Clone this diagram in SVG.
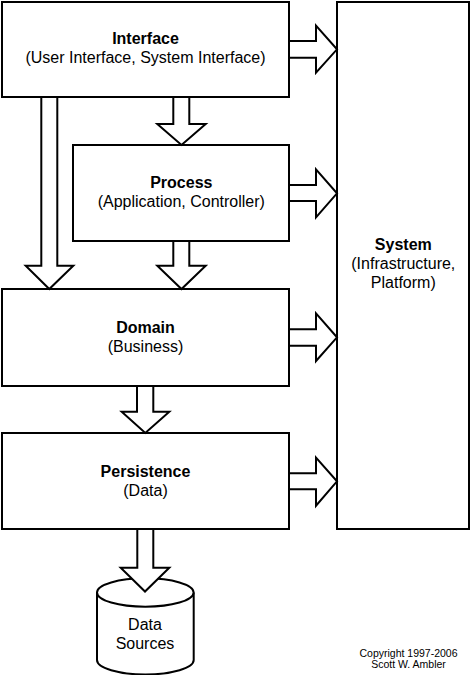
<svg xmlns="http://www.w3.org/2000/svg" width="471" height="675" viewBox="0 0 471 675">
<style>
.box{fill:#fff;stroke:#000;stroke-width:2}
.arr{fill:#fff;stroke:#000;stroke-width:2;stroke-linejoin:miter}
text{font-family:"Liberation Sans",Arial,sans-serif;font-size:16px;fill:#000;text-anchor:middle}
.t{font-weight:bold}
.c{font-size:10.5px}
</style>
<rect width="471" height="675" fill="#fff"/>
<g id="system">
<rect class="box" x="337" y="2" width="132" height="527"/>
<text class="t" x="403.3" y="250">System</text>
<text x="403.3" y="269.3">(Infrastructure,</text>
<text x="403.3" y="288.3">Platform)</text>
</g>
<g id="interface">
<rect class="box" x="2" y="2" width="287" height="95"/>
<text class="t" x="145.5" y="44.3">Interface</text>
<text x="145.5" y="63">(User Interface, System Interface)</text>
</g>
<g id="process">
<rect class="box" x="73" y="145" width="216" height="96"/>
<text class="t" x="181.3" y="188.3">Process</text>
<text x="181.3" y="207.3">(Application, Controller)</text>
</g>
<g id="domain">
<rect class="box" x="2" y="289" width="287" height="97"/>
<text class="t" x="145.5" y="332.7">Domain</text>
<text x="145.5" y="351.7">(Business)</text>
</g>
<g id="persistence">
<rect class="box" x="2" y="433" width="287" height="96"/>
<text class="t" x="145.5" y="476.7">Persistence</text>
<text x="145.5" y="496">(Data)</text>
</g>
<g id="datasources">
<path class="box" d="M97,592.5 L97,660 A48.3,14.5 0 0 0 193.7,660 L193.7,592.5"/>
<ellipse class="box" cx="145.3" cy="592.5" rx="48.3" ry="14.2"/>
<text x="145" y="630">Data</text>
<text x="145" y="649.3">Sources</text>
</g>
<g id="copyright">
<text class="c" x="408.5" y="656.7">Copyright 1997-2006</text>
<text class="c" x="408.5" y="667.5">Scott W. Ambler</text>
</g>
<g id="connectors">
<polygon class="arr" points="289,41 316,41 316,25.7 337,49.3 316,72.7 316,57.7 289,57.7"/>
<polygon class="arr" points="289,185 316,185 316,169.3 337,193.3 316,217.3 316,201 289,201"/>
<polygon class="arr" points="289,329.3 316,329.3 316,313.3 337,337.3 316,361 316,345.7 289,345.7"/>
<polygon class="arr" points="289,473.3 316,473.3 316,457.7 337,481.3 316,505.7 316,489.3 289,489.3"/>
<polygon class="arr" points="173.3,97 173.3,124 157.3,124 181.5,145 205.7,124 189.3,124 189.3,97"/>
<polygon class="arr" points="41.3,97 41.3,265.7 25.7,265.7 49.3,289 73.3,265.7 57.3,265.7 57.3,97"/>
<polygon class="arr" points="173.3,241 173.3,265.7 157.3,265.7 181.5,289 205.7,265.7 189.3,265.7 189.3,241"/>
<polygon class="arr" points="137,386 137,411.7 121.7,411.7 145.3,433 169.3,411.7 153.3,411.7 153.3,386"/>
<polygon class="arr" points="137.3,529 137.3,567.7 120.7,567.7 145,591.5 169.3,567.7 153.3,567.7 153.3,529"/>
</g>
</svg>
